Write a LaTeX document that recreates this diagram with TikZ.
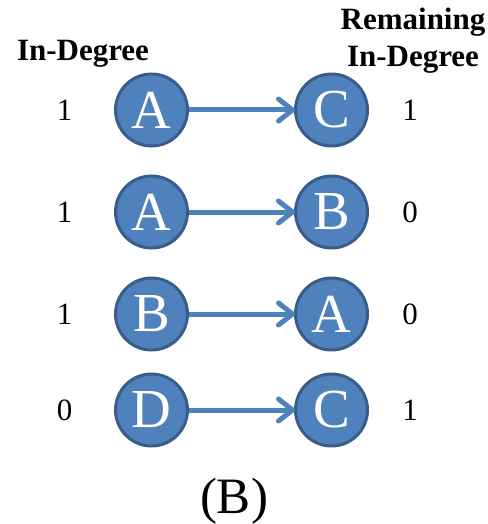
\documentclass[tikz,border=0pt]{standalone}
\usepackage{fontspec}
\setmainfont{Liberation Serif}
\usetikzlibrary{arrows.meta}
\definecolor{nodefill}{HTML}{4F81BD}
\definecolor{nodeline}{HTML}{385D8A}
\tikzset{
  vert/.style={circle, fill=nodefill, draw=nodeline, line width=3pt, minimum size=72pt, inner sep=0pt, text=white, font=\fontsize{55}{55}\selectfont},
  link/.style={draw=nodefill, line width=5pt, shorten >=-1pt, -{Straight Barb[length=14pt,width=22pt,line width=5pt,round]}},
  num/.style={font=\fontsize{31}{31}\selectfont},
  head/.style={font=\bfseries\fontsize{31}{37}\selectfont, align=center},
  captext/.style={font=\fontsize{51}{51}\selectfont}
}
\begin{document}
\begin{tikzpicture}[x=1pt,y=-1pt]
\useasboundingbox (0,0) rectangle (487,524);
\node[head] (h1) at (83,54) {In-Degree};
\node[head] (h2) at (413,41) {Remaining\\In-Degree};
% row 1
\node[vert] (a1) at (151.5,110) {A};
\node[vert] (c1) at (331.5,110) {C};
\node[num] (l1) at (64.5,110.5) {1};
\node[num] (r1) at (410,110.5) {1};
\draw[link] (a1) -- (c1);
% row 2
\node[vert] (a2) at (151.5,212) {A};
\node[vert] (b2) at (331.5,212) {B};
\node[num] (l2) at (64.5,212.5) {1};
\node[num] (r2) at (410,212.5) {0};
\draw[link] (a2) -- (b2);
% row 3
\node[vert] (b3) at (151.5,314) {B};
\node[vert] (a3) at (331.5,314) {A};
\node[num] (l3) at (64.5,314.5) {1};
\node[num] (r3) at (410,314.5) {0};
\draw[link] (b3) -- (a3);
% row 4
\node[vert] (d4) at (151.5,410) {D};
\node[vert] (c4) at (331.5,410) {C};
\node[num] (l4) at (64.5,410.5) {0};
\node[num] (r4) at (410,410.5) {1};
\draw[link] (d4) -- (c4);
\node[captext] (capt) at (234,501) {(B)};
\end{tikzpicture}
\end{document}
